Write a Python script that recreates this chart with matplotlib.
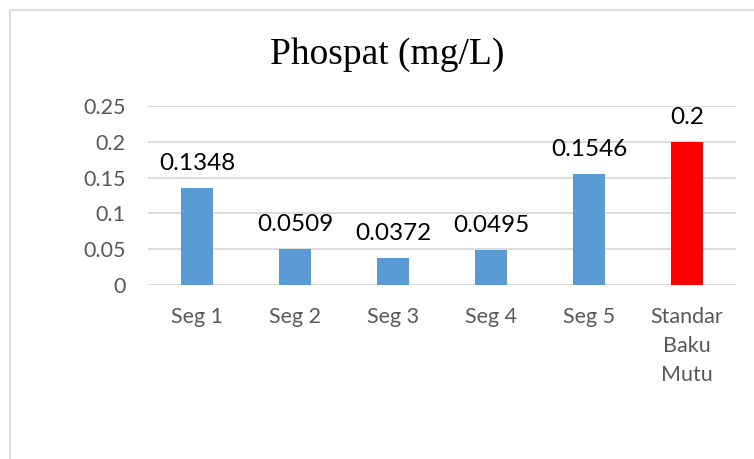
import matplotlib
matplotlib.use('Agg')

import matplotlib.pyplot as plt
from matplotlib.lines import Line2D

# data
categories = ['Seg 1', 'Seg 2', 'Seg 3', 'Seg 4', 'Seg 5', 'Standar\nBaku\nMutu']
values = [0.1348, 0.0509, 0.0372, 0.0495, 0.1546, 0.2]
value_labels = ['0.1348', '0.0509', '0.0372', '0.0495', '0.1546', '0.2']
bar_colors = ['#5B9BD5'] * 5 + ['#FF0000']
y_ticks = [0, 0.05, 0.1, 0.15, 0.2, 0.25]
y_tick_labels = ['0', '0.05', '0.1', '0.15', '0.2', '0.25']

W, H = 754, 459
fig = plt.figure(figsize=(W / 100, H / 100), dpi=100)
ax = fig.add_axes([148 / W, 1 - 285 / H, 588 / W, 179 / H])

x = list(range(len(categories)))
ax.bar(x, values, width=0.32, color=bar_colors, zorder=3)

# data labels above each bar
for xi, v, lab in zip(x, values, value_labels):
    ax.annotate(lab, (xi, v), xytext=(0, 13), textcoords='offset points',
                ha='center', va='baseline', fontsize=17.5, family='Lato', color='black')

ax.set_xlim(-0.5, len(categories) - 0.5)
ax.set_ylim(0, 0.25)
ax.set_yticks(y_ticks)
ax.set_yticklabels(y_tick_labels)
ax.set_xticks(x)
ax.set_xticklabels(categories, linespacing=1.55)

ax.yaxis.grid(True, color='#D9D9D9', linewidth=1.3, zorder=0)
ax.set_axisbelow(True)
for s in ax.spines.values():
    s.set_visible(False)
ax.tick_params(axis='both', length=0, labelsize=15.5, labelcolor='#595959')
ax.tick_params(axis='y', pad=16)
ax.tick_params(axis='x', pad=16)
for t in ax.get_xticklabels() + ax.get_yticklabels():
    t.set_family('Lato')

# title
fig.text(387 / W, 1 - 64 / H, 'Phospat (mg/L)', ha='center', va='baseline',
         fontsize=27, family='Liberation Serif', color='black')

# chart area border (left and top edges visible)
fig.add_artist(Line2D([9.5 / W, 9.5 / W, 1], [0, 1 - 9.5 / H, 1 - 9.5 / H],
                      transform=fig.transFigure, color='#D9D9D9', linewidth=1.3))

fig.savefig('out.png', dpi=100, facecolor='white')
plt.close(fig)
